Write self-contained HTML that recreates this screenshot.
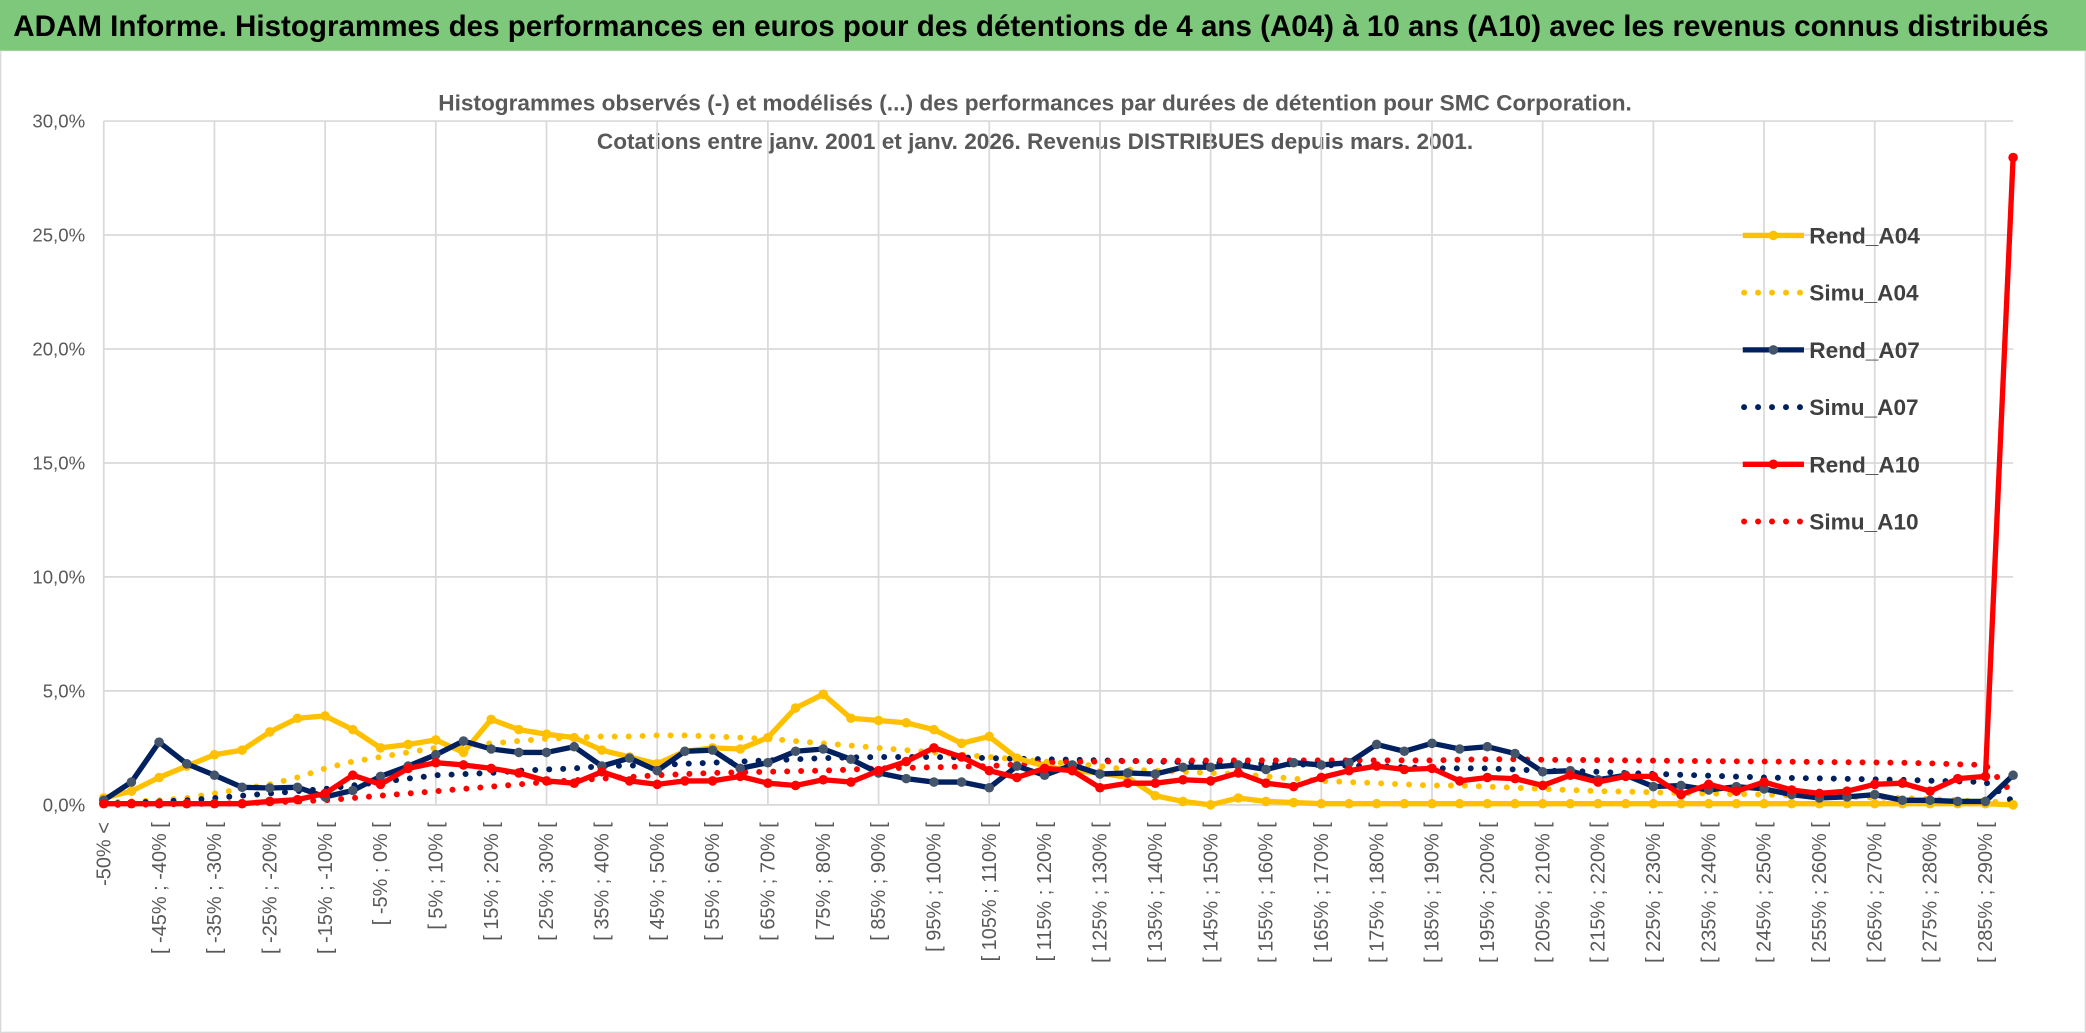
<!DOCTYPE html>
<html><head><meta charset="utf-8"><style>
html,body{margin:0;padding:0;background:#fff;}
svg{display:block;font-family:"Liberation Sans",sans-serif;}
</style></head><body>
<svg id="chart" width="2086" height="1033" viewBox="0 0 1568 776.5" preserveAspectRatio="none" xmlns="http://www.w3.org/2000/svg">
<rect x="0" y="0" width="1568" height="776.5" fill="#fff"/>
<rect x="0.5" y="38" width="1567" height="738" fill="none" stroke="#d9d9d9" stroke-width="1"/>
<rect x="0" y="0" width="1568" height="38" fill="#7dc87a"/>
<text x="775" y="27" text-anchor="middle" font-size="22" font-weight="bold" fill="#000" textLength="1530" lengthAdjust="spacingAndGlyphs">ADAM Informe. Histogrammes des performances en euros pour des détentions de 4 ans (A04) à 10 ans (A10) avec les revenus connus distribués</text>
<text x="778" y="83" text-anchor="middle" font-size="17" font-weight="bold" fill="#595959">Histogrammes observés (-) et modélisés (...) des performances par durées de détention pour SMC Corporation.</text>
<text x="778" y="112" text-anchor="middle" font-size="17" font-weight="bold" fill="#595959">Cotations entre janv. 2001 et janv. 2026. Revenus DISTRIBUES depuis mars. 2001.</text>
<g id="grid"></g><g id="axes"></g><g id="series"></g><g id="legend"></g>
</svg>
<script>
const yTicks=[0,5,10,15,20,25,30];
const rendA04=[0.3,0.6,1.2,1.7,2.2,2.4,3.2,3.8,3.9,3.3,2.5,2.65,2.85,2.3,3.75,3.3,3.1,2.95,2.4,2.1,1.8,2.35,2.5,2.45,2.95,4.25,4.85,3.8,3.7,3.6,3.3,2.7,3.0,2.05,1.7,1.5,1.4,1.2,0.4,0.15,0.0,0.3,0.15,0.1,0.05,0.05,0.05,0.05,0.05,0.05,0.05,0.05,0.05,0.05,0.05,0.05,0.05,0.05,0.05,0.05,0.05,0.05,0.05,0.05,0.05,0.05,0.05,0.05,0.05,0.0];
const simuA04=[0.1,0.15,0.2,0.3,0.5,0.7,0.9,1.2,1.6,1.9,2.1,2.3,2.5,2.6,2.7,2.8,2.9,2.95,3.0,3.0,3.05,3.05,3.0,2.95,2.9,2.8,2.7,2.6,2.5,2.4,2.3,2.2,2.1,2.0,1.9,1.8,1.7,1.55,1.5,1.45,1.4,1.35,1.25,1.15,1.05,1.0,0.95,0.9,0.85,0.85,0.8,0.75,0.7,0.65,0.6,0.58,0.55,0.52,0.5,0.47,0.45,0.42,0.38,0.35,0.32,0.3,0.25,0.2,0.15,0.1];
const rendA07=[0.2,1.0,2.75,1.8,1.3,0.77,0.74,0.77,0.35,0.63,1.25,1.7,2.2,2.8,2.45,2.3,2.3,2.55,1.7,2.05,1.5,2.35,2.4,1.6,1.85,2.35,2.45,2.0,1.4,1.15,1.0,1.0,0.75,1.7,1.3,1.75,1.35,1.4,1.35,1.65,1.65,1.75,1.55,1.85,1.75,1.85,2.65,2.35,2.7,2.45,2.55,2.25,1.45,1.5,1.1,1.3,0.8,0.85,0.65,0.8,0.7,0.45,0.3,0.35,0.45,0.2,0.2,0.15,0.15,1.3];
const simuA07=[0.05,0.1,0.15,0.2,0.3,0.4,0.5,0.6,0.7,0.85,1.0,1.15,1.3,1.35,1.4,1.5,1.55,1.6,1.7,1.72,1.75,1.8,1.85,1.9,1.95,2.0,2.05,2.08,2.1,2.1,2.1,2.08,2.05,2.02,2.0,1.98,1.95,1.93,1.9,1.88,1.85,1.82,1.8,1.78,1.75,1.72,1.7,1.65,1.6,1.6,1.6,1.55,1.5,1.48,1.45,1.4,1.36,1.32,1.28,1.24,1.2,1.18,1.16,1.14,1.12,1.1,1.06,1.03,1.0,0.15];
const rendA10=[0.05,0.05,0.05,0.05,0.05,0.05,0.15,0.23,0.5,1.3,0.9,1.6,1.85,1.75,1.6,1.4,1.05,0.95,1.45,1.05,0.9,1.05,1.05,1.25,0.95,0.85,1.1,1.0,1.5,1.9,2.5,2.1,1.5,1.2,1.6,1.5,0.75,0.95,0.95,1.1,1.05,1.4,0.95,0.8,1.2,1.5,1.7,1.55,1.6,1.05,1.2,1.15,0.85,1.3,1.0,1.25,1.25,0.45,0.9,0.6,1.0,0.65,0.5,0.6,0.9,0.95,0.6,1.15,1.25,28.4];
const simuA10=[0.0,0.0,0.02,0.03,0.05,0.08,0.1,0.15,0.2,0.3,0.4,0.5,0.6,0.7,0.8,0.9,1.0,1.08,1.15,1.22,1.3,1.35,1.4,1.43,1.45,1.48,1.5,1.55,1.6,1.62,1.65,1.68,1.7,1.78,1.85,1.88,1.9,1.92,1.93,1.94,1.95,1.95,1.95,1.95,1.95,1.95,1.95,1.95,1.95,1.98,2.0,2.0,1.98,1.97,1.96,1.95,1.94,1.93,1.92,1.91,1.9,1.89,1.88,1.87,1.86,1.85,1.82,1.78,1.75,0.5];
const NS='http://www.w3.org/2000/svg';
const X0=78,DX=20.8,Y0=605,YS=(605-91)/30;
function xPos(i){return X0+DX*i;}
function yPos(v){return Y0-v*YS;}
function mk(tag,attrs,parent){const e=document.createElementNS(NS,tag);for(const k in attrs)e.setAttribute(k,attrs[k]);parent.appendChild(e);return e;}
const N=rendA04.length;
function catLabel(k){if(k===0)return '-50% <';return '[ '+(-55+5*k)+'% ; '+(-50+5*k)+'% [';}
const grid=document.getElementById('grid'),axes=document.getElementById('axes'),series=document.getElementById('series'),legend=document.getElementById('legend');
yTicks.forEach(t=>{
  const l=mk('line',{x1:xPos(0),x2:xPos(N-1),y1:yPos(t),y2:yPos(t),stroke:'#d9d9d9','stroke-width':1.3},grid);
  
  
  const tx=mk('text',{x:64,y:yPos(t)+5,'text-anchor':'end','font-size':14,fill:'#595959'},axes);
  tx.textContent=t.toFixed(1).replace('.',',')+'%';
  
  
});
for(let i=0;i<N;i+=4){
  const l=mk('line',{x1:xPos(i),x2:xPos(i),y1:yPos(30),y2:Y0,stroke:'#d9d9d9','stroke-width':1.3},grid);
  
  
}
for(let i=0;i<N;i+=2){
  const x=xPos(i)+5,y=618;
  const tx=mk('text',{x:x,y:y,'text-anchor':'end','font-size':15,fill:'#595959',transform:'rotate(-90 '+x+' '+y+')'},axes);
  tx.textContent=catLabel(i);
  
  
}
function pts(arr){return arr.map((v,i)=>xPos(i)+','+yPos(v)).join(' ');}
function dotted(arr,color,name){
  const p=mk('polyline',{points:pts(arr),fill:'none',stroke:color,'stroke-width':4.5,'stroke-linecap':'round','stroke-dasharray':'0 10.5'},series);
  
  
}
function solid(arr,color,mcolor,name){
  const g=mk('g',{},series);
  
  
  mk('polyline',{points:pts(arr),fill:'none',stroke:color,'stroke-width':4,'stroke-linejoin':'round'},g);
  arr.forEach((v,i)=>{
    const c=mk('circle',{cx:xPos(i),cy:yPos(v),r:3.6,fill:mcolor},g);
    
    
  });
}
dotted(simuA04,'#ffc000','series-simu-a04');
dotted(simuA07,'#002060','series-simu-a07');
dotted(simuA10,'#ff0000','series-simu-a10');
solid(rendA04,'#ffc000','#ffc000','series-rend-a04');
solid(rendA07,'#002060','#44546a','series-rend-a07');
solid(rendA10,'#ff0000','#ff0000','series-rend-a10');
const legItems=[['Rend_A04','#ffc000',false],['Simu_A04','#ffc000',true],['Rend_A07','#002060',false],['Simu_A07','#002060',true],['Rend_A10','#ff0000',false],['Simu_A10','#ff0000',true]];
legItems.forEach((it,k)=>{
  const y=177+k*43;
  const g=mk('g',{},legend);
  
  
  if(it[2]){mk('line',{x1:1311,x2:1355,y1:y,y2:y,stroke:it[1],'stroke-width':4.5,'stroke-linecap':'round','stroke-dasharray':'0 10.5'},g);}
  else{mk('line',{x1:1310,x2:1356,y1:y,y2:y,stroke:it[1],'stroke-width':4},g);mk('circle',{cx:1333,cy:y,r:3.6,fill:it[1]==='#002060'?'#44546a':it[1]},g);}
  const t=mk('text',{x:1360,y:y+6,'font-size':17,'font-weight':'bold',fill:'#404040'},g);
  t.textContent=it[0];
});
</script>
</body></html>
